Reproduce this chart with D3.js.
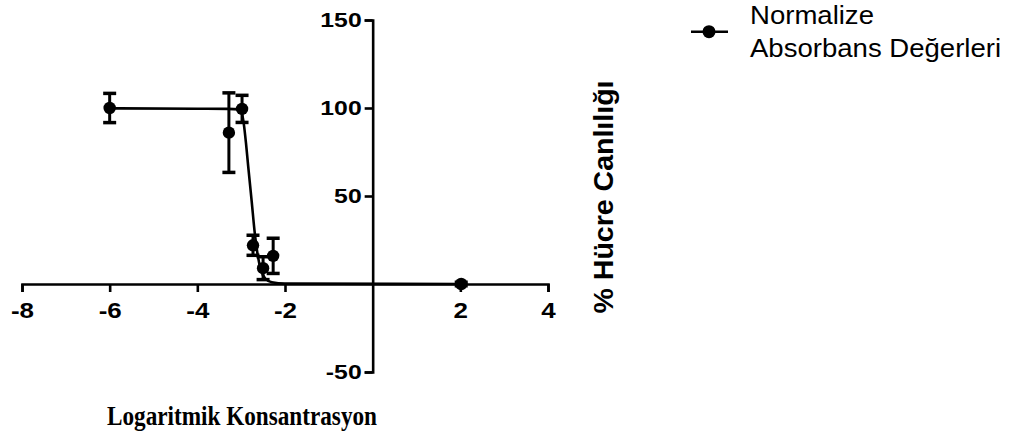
<!DOCTYPE html>
<html>
<head>
<meta charset="utf-8">
<script src="https://cdn.jsdelivr.net/npm/d3@7"></script>
<style>
  body { margin: 0; background: #fff; }
  svg { display: block; }
  .tick text { font-family: "Liberation Sans", Arial, sans-serif; font-weight: bold; fill: #000; }
</style>
</head>
<body>
<svg width="1027" height="436"></svg>
<script>
// measured points: log concentration, % viability, error
const logConc = [-6, -3.28, -2.98, -2.73, -2.5, -2.27, 2.02];
const viability = [100, 86, 99.5, 22, 9, 16, 0];
const errors = [8.3, 22.6, 7.7, 5.7, 6.5, 10, 1];

// fitted curve
const fitX = [-6, -4, -3.3, -3.05, -3.0, -2.97, -2.94, -2.89, -2.84, -2.76, -2.69, -2.62, -2.55, -2.45, -2.3, -2.0, 2.02];
const fitY = [99.8, 99.6, 99.5, 99.2, 98, 95.5, 91, 80, 67, 47, 29, 16, 8, 3, 1, 0.3, 0];

const xTicks = [-8, -6, -4, -2, 2, 4];
const yTicks = [150, 100, 50, -50];

const svg = d3.select("svg");

const x = d3.scaleLinear().domain([-8, 4]).range([22, 548]);
const y = d3.scaleLinear().domain([-50, 150]).range([372, 20]);

const stretch = (sel, k) => sel.each(function () {
  const w = this.getComputedTextLength();
  d3.select(this).attr("textLength", w * k).attr("lengthAdjust", "spacingAndGlyphs");
});

// x axis through y = 0
const xAxis = svg.append("g")
  .attr("transform", `translate(0,${y(0)})`)
  .call(d3.axisBottom(x).tickValues(xTicks).tickFormat(d => String(d))
    .tickSizeOuter(0).tickSize(8).tickPadding(10));
xAxis.selectAll(".tick text").attr("font-size", 22);

// y axis through x = 0
const yAxis = svg.append("g")
  .attr("transform", `translate(${x(0)},0)`)
  .call(d3.axisLeft(y).tickValues(yTicks).tickFormat(d => String(d))
    .tickSizeOuter(0).tickSize(8).tickPadding(3));
yAxis.selectAll(".tick text").attr("font-size", 21);

[xAxis, yAxis].forEach(g => {
  g.select(".domain").attr("stroke", "#000").attr("stroke-width", 2.6);
  g.selectAll(".tick line").attr("stroke", "#000").attr("stroke-width", 2.6);
  g.selectAll(".tick text").call(stretch, 1.18);
});

// fitted line
const line = d3.line()
  .x((d, i) => x(fitX[i]))
  .y((d, i) => y(fitY[i]))
  .curve(d3.curveMonotoneX);

svg.append("path")
  .datum(fitX)
  .attr("d", line)
  .attr("fill", "none")
  .attr("stroke", "#000")
  .attr("stroke-width", 2.6);

// error bars
const bars = svg.append("g")
  .selectAll("g")
  .data(logConc)
  .enter()
  .append("g");

bars.append("line")
  .attr("x1", d => x(d))
  .attr("x2", d => x(d))
  .attr("y1", (d, i) => y(viability[i] + errors[i]))
  .attr("y2", (d, i) => y(viability[i] - errors[i]))
  .attr("stroke", "#000")
  .attr("stroke-width", 3);

[1, -1].forEach(s => {
  bars.append("line")
    .attr("x1", d => x(d) - 6.5)
    .attr("x2", d => x(d) + 6.5)
    .attr("y1", (d, i) => y(viability[i] + s * errors[i]))
    .attr("y2", (d, i) => y(viability[i] + s * errors[i]))
    .attr("stroke", "#000")
    .attr("stroke-width", 3.5);
});

bars.append("circle")
  .attr("cx", d => x(d))
  .attr("cy", (d, i) => y(viability[i]))
  .attr("r", 6.2)
  .attr("fill", "#000");

// axis titles
svg.append("text")
  .attr("x", 242)
  .attr("y", 425)
  .attr("text-anchor", "middle")
  .attr("font-family", "'Liberation Serif', 'Times New Roman', serif")
  .attr("font-weight", "bold")
  .attr("font-size", 27)
  .attr("textLength", 270)
  .attr("lengthAdjust", "spacingAndGlyphs")
  .text("Logaritmik Konsantrasyon");

svg.append("text")
  .attr("transform", "translate(613,197) rotate(-90)")
  .attr("text-anchor", "middle")
  .attr("font-family", "'Liberation Sans', Arial, sans-serif")
  .attr("font-weight", "bold")
  .attr("font-size", 27)
  .attr("textLength", 233)
  .attr("lengthAdjust", "spacingAndGlyphs")
  .text("% Hücre Canlılığı");

// legend
const legend = svg.append("g");
legend.append("line")
  .attr("x1", 691).attr("x2", 728)
  .attr("y1", 31.7).attr("y2", 31.7)
  .attr("stroke", "#000").attr("stroke-width", 2.6);
legend.append("circle")
  .attr("cx", 709).attr("cy", 31.7).attr("r", 6.5).attr("fill", "#000");
legend.selectAll("text")
  .data(["Normalize", "Absorbans Değerleri"])
  .enter()
  .append("text")
  .attr("x", 750)
  .attr("y", (d, i) => 23.5 + i * 33.4)
  .attr("font-family", "'Liberation Sans', Arial, sans-serif")
  .attr("font-size", 25.5)
  .attr("fill", "#000")
  .text(d => d)
  .call(stretch, 1.08);
</script>
</body>
</html>
